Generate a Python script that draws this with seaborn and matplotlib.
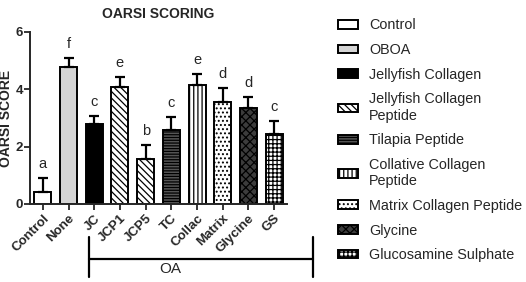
import pandas as pd
import matplotlib.pyplot as plt
import seaborn as sns
import numpy as np
from matplotlib.patches import Patch
import matplotlib.transforms as mtransforms

groups = ['Control', 'None', 'JC', 'JCP1', 'JCP5', 'TC', 'Collac', 'Matrix', 'Glycine', 'GS']
scores = [0.43, 4.77, 2.79, 4.08, 1.57, 2.58, 4.15, 3.56, 3.34, 2.44]
sems = [0.47, 0.31, 0.28, 0.35, 0.48, 0.45, 0.40, 0.48, 0.39, 0.46]
letters = ['a', 'f', 'c', 'e', 'b', 'c', 'e', 'd', 'd', 'c']

legendNames = ['Control', 'OBOA', 'Jellyfish Collagen', 'Jellyfish Collagen\nPeptide',
               'Tilapia Peptide', 'Collative Collagen\nPeptide', 'Matrix Collagen Peptide',
               'Glycine', 'Glucosamine Sulphate']

# face colour / hatch per bar (JCP1 and JCP5 share one style)
faceCols = ['white', '#d4d4d4', 'black', 'white', 'white', '#555555', 'white', 'white', '#3c3c3c', 'white']
hatches = ['', '', '', '\\\\\\\\\\', '\\\\\\\\\\', '------', '||||', '....', 'xxxx', '++++']
legendIdx = [0, 1, 2, 3, 5, 6, 7, 8, 9]

df = pd.DataFrame({'group': groups, 'score': scores, 'sem': sems})

sns.set_style('ticks')
plt.rcParams['font.family'] = ['Liberation Sans', 'DejaVu Sans']
plt.rcParams['hatch.linewidth'] = 0.9

fig = plt.figure(figsize=(5.26, 2.82), dpi=100)
ax = fig.add_axes([0.057, 0.2766, 0.4886, 0.61])

sns.barplot(data=df, x='group', y='score', hue='group', palette=faceCols,
            edgecolor='black', linewidth=1.4, width=0.66, legend=False, saturation=1, ax=ax)
for cont, h in zip(ax.containers, hatches):
    for bar in cont:
        bar.set_hatch(h)

ax.errorbar(x=np.arange(len(groups)), y=df['score'], yerr=[np.zeros(len(groups)), df['sem']],
            fmt='none', ecolor='black', elinewidth=1.6, capsize=3.8, capthick=1.6, zorder=1)

for i, (s, e, l) in enumerate(zip(scores, sems, letters)):
    ax.annotate(l, (i, s + e), xytext=(0, 5), textcoords='offset points',
                ha='center', va='bottom', fontsize=10.5)

ax.set_xlim(-0.5, 9.5)
ax.set_ylim(0, 6)
ax.set_yticks([0, 2, 4, 6])
ax.set_xlabel('')
ax.set_ylabel('OARSI SCORE', fontsize=10, fontweight='bold')
ax.yaxis.set_label_coords(-0.066, 0.5)
ax.set_title('OARSI SCORING', fontsize=10, fontweight='bold', pad=10)
ax.tick_params(axis='both', width=1.3, length=4, labelsize=9.5)
ax.tick_params(axis='y', pad=1)
ax.tick_params(axis='x', pad=2)
plt.setp(ax.get_yticklabels(), fontweight='bold')
plt.setp(ax.get_xticklabels(), fontweight='bold', rotation=45, ha='right', rotation_mode='anchor')
for sp in ['left', 'bottom']:
    ax.spines[sp].set_linewidth(1.4)
sns.despine(ax=ax)

# OA bracket under the treated groups
trans = mtransforms.blended_transform_factory(ax.transData, ax.transAxes)
ax.plot([1.79, 10.5], [-0.32, -0.32], color='black', lw=1.6, transform=trans, clip_on=False)
ax.plot([1.79, 1.79], [-0.19, -0.425], color='black', lw=1.6, transform=trans, clip_on=False)
ax.plot([10.5, 10.5], [-0.19, -0.425], color='black', lw=1.6, transform=trans, clip_on=False)
ax.text(4.94, -0.378, 'OA', transform=trans, ha='center', va='center', fontsize=11)

handles = [Patch(facecolor=faceCols[i], edgecolor='black', hatch=hatches[i], linewidth=1.4)
           for i in legendIdx]
fig.legend(handles, legendNames, loc='upper left', bbox_to_anchor=(0.6426, 0.935),
           frameon=False, fontsize=10.4, borderpad=0, borderaxespad=0,
           handlelength=1.35, handleheight=0.55, handletextpad=0.8, labelspacing=0.74)

plt.savefig('out.png', dpi=100)
